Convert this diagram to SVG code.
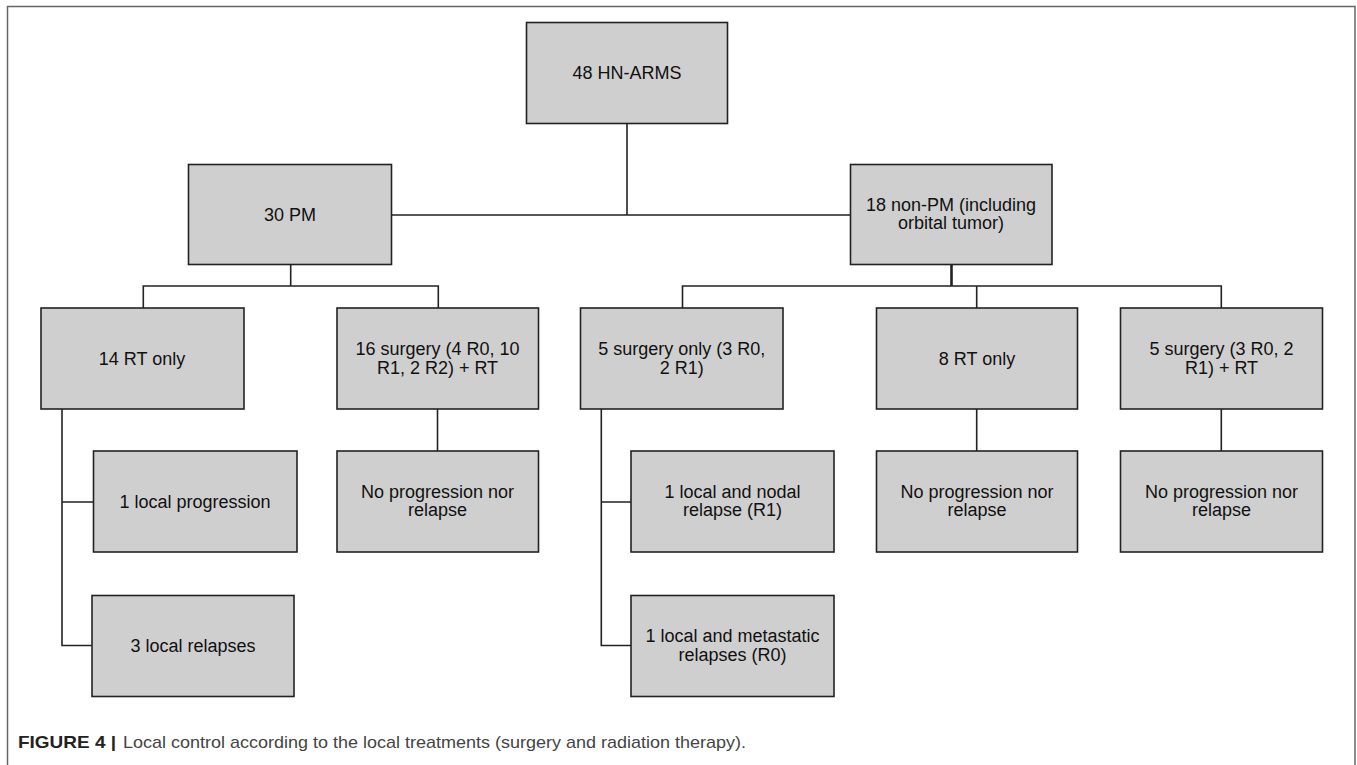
<svg xmlns="http://www.w3.org/2000/svg" width="1357" height="765" viewBox="0 0 1357 765">
<style>
.box{fill:#cfcfcf;stroke:#222;stroke-width:1.6}
.lbl{font-family:"Liberation Sans",Arial,sans-serif;font-size:18px;fill:#111;text-anchor:middle}
.con{fill:none;stroke:#222;stroke-width:1.6}
.frame{fill:none;stroke:#666;stroke-width:1.5}
.cap{font-family:"Liberation Sans",Arial,sans-serif;font-size:17px;fill:#444}
.capb{font-weight:bold;fill:#222}
</style>
<rect width="1357" height="765" fill="#fff"/>
<path class="frame" d="M7.5,765 V6.5 H1355 V765"/>
<g id="connectors">
<path class="con" d="M627,123.5 V215 M391.5,215 H850.5"/>
<path class="con" d="M290.7,264.5 V286 M143.3,308 V286 H438.3 V308"/>
<path class="con" style="stroke-width:2.6" d="M951.5,264.5 V286"/>
<path class="con" d="M682.5,308 V286 H1221.3 V308 M976.7,286 V308"/>
<path class="con" d="M62,409 V645.5 H92 M62,502 H93.5"/>
<path class="con" d="M437.5,409 V451"/>
<path class="con" d="M601.3,409 V645.5 H631 M601.3,502 H631"/>
<path class="con" d="M976.7,409 V451 M1221.3,409 V451"/>
</g>
<g id="root"><rect class="box" x="526.5" y="22.5" width="201" height="101"/><text class="lbl" x="627" y="78.5">48 HN-ARMS</text></g>
<g id="pm"><rect class="box" x="188.5" y="164.5" width="203" height="100"/><text class="lbl" x="290" y="221">30 PM</text></g>
<g id="nonpm"><rect class="box" x="850.5" y="164.5" width="201.5" height="100"/><text class="lbl" x="951" y="210.5">18 non-PM (including</text><text class="lbl" x="951" y="229">orbital tumor)</text></g>
<g id="rt14"><rect class="box" x="41" y="308" width="203" height="101"/><text class="lbl" x="142" y="364.5">14 RT only</text></g>
<g id="surg16"><rect class="box" x="337" y="308" width="201.5" height="101"/><text class="lbl" x="437.5" y="355">16 surgery (4 R0, 10</text><text class="lbl" x="437.5" y="373.5">R1, 2 R2) + RT</text></g>
<g id="surg5only"><rect class="box" x="580.5" y="308" width="202.5" height="101"/><text class="lbl" x="681.7" y="355">5 surgery only (3 R0,</text><text class="lbl" x="681.7" y="373.5">2 R1)</text></g>
<g id="rt8"><rect class="box" x="876.5" y="308" width="201" height="101"/><text class="lbl" x="977" y="364.5">8 RT only</text></g>
<g id="surg5rt"><rect class="box" x="1120.5" y="308" width="202" height="101"/><text class="lbl" x="1221.5" y="355">5 surgery (3 R0, 2</text><text class="lbl" x="1221.5" y="373.5">R1) + RT</text></g>
<g id="prog1"><rect class="box" x="93.5" y="451" width="203.5" height="101"/><text class="lbl" x="195" y="508">1 local progression</text></g>
<g id="noprog16"><rect class="box" x="337" y="451" width="201.5" height="101"/><text class="lbl" x="437.5" y="497.5">No progression nor</text><text class="lbl" x="437.5" y="516">relapse</text></g>
<g id="nodal1"><rect class="box" x="631" y="451" width="203" height="101"/><text class="lbl" x="732.5" y="497.5">1 local and nodal</text><text class="lbl" x="732.5" y="516">relapse (R1)</text></g>
<g id="noprog8"><rect class="box" x="876.5" y="451" width="201" height="101"/><text class="lbl" x="977" y="497.5">No progression nor</text><text class="lbl" x="977" y="516">relapse</text></g>
<g id="noprog5"><rect class="box" x="1120.5" y="451" width="202" height="101"/><text class="lbl" x="1221.5" y="497.5">No progression nor</text><text class="lbl" x="1221.5" y="516">relapse</text></g>
<g id="relapse3"><rect class="box" x="92" y="595.5" width="202" height="101"/><text class="lbl" x="193" y="652">3 local relapses</text></g>
<g id="meta1"><rect class="box" x="631" y="595.5" width="203" height="101"/><text class="lbl" x="732.5" y="642">1 local and metastatic</text><text class="lbl" x="732.5" y="660.5">relapses (R0)</text></g>
<g id="caption">
<text class="cap capb" x="18" y="748" textLength="98" lengthAdjust="spacingAndGlyphs">FIGURE 4 |</text>
<text class="cap" x="123" y="748" textLength="623" lengthAdjust="spacingAndGlyphs">Local control according to the local treatments (surgery and radiation therapy).</text>
</g>
</svg>
